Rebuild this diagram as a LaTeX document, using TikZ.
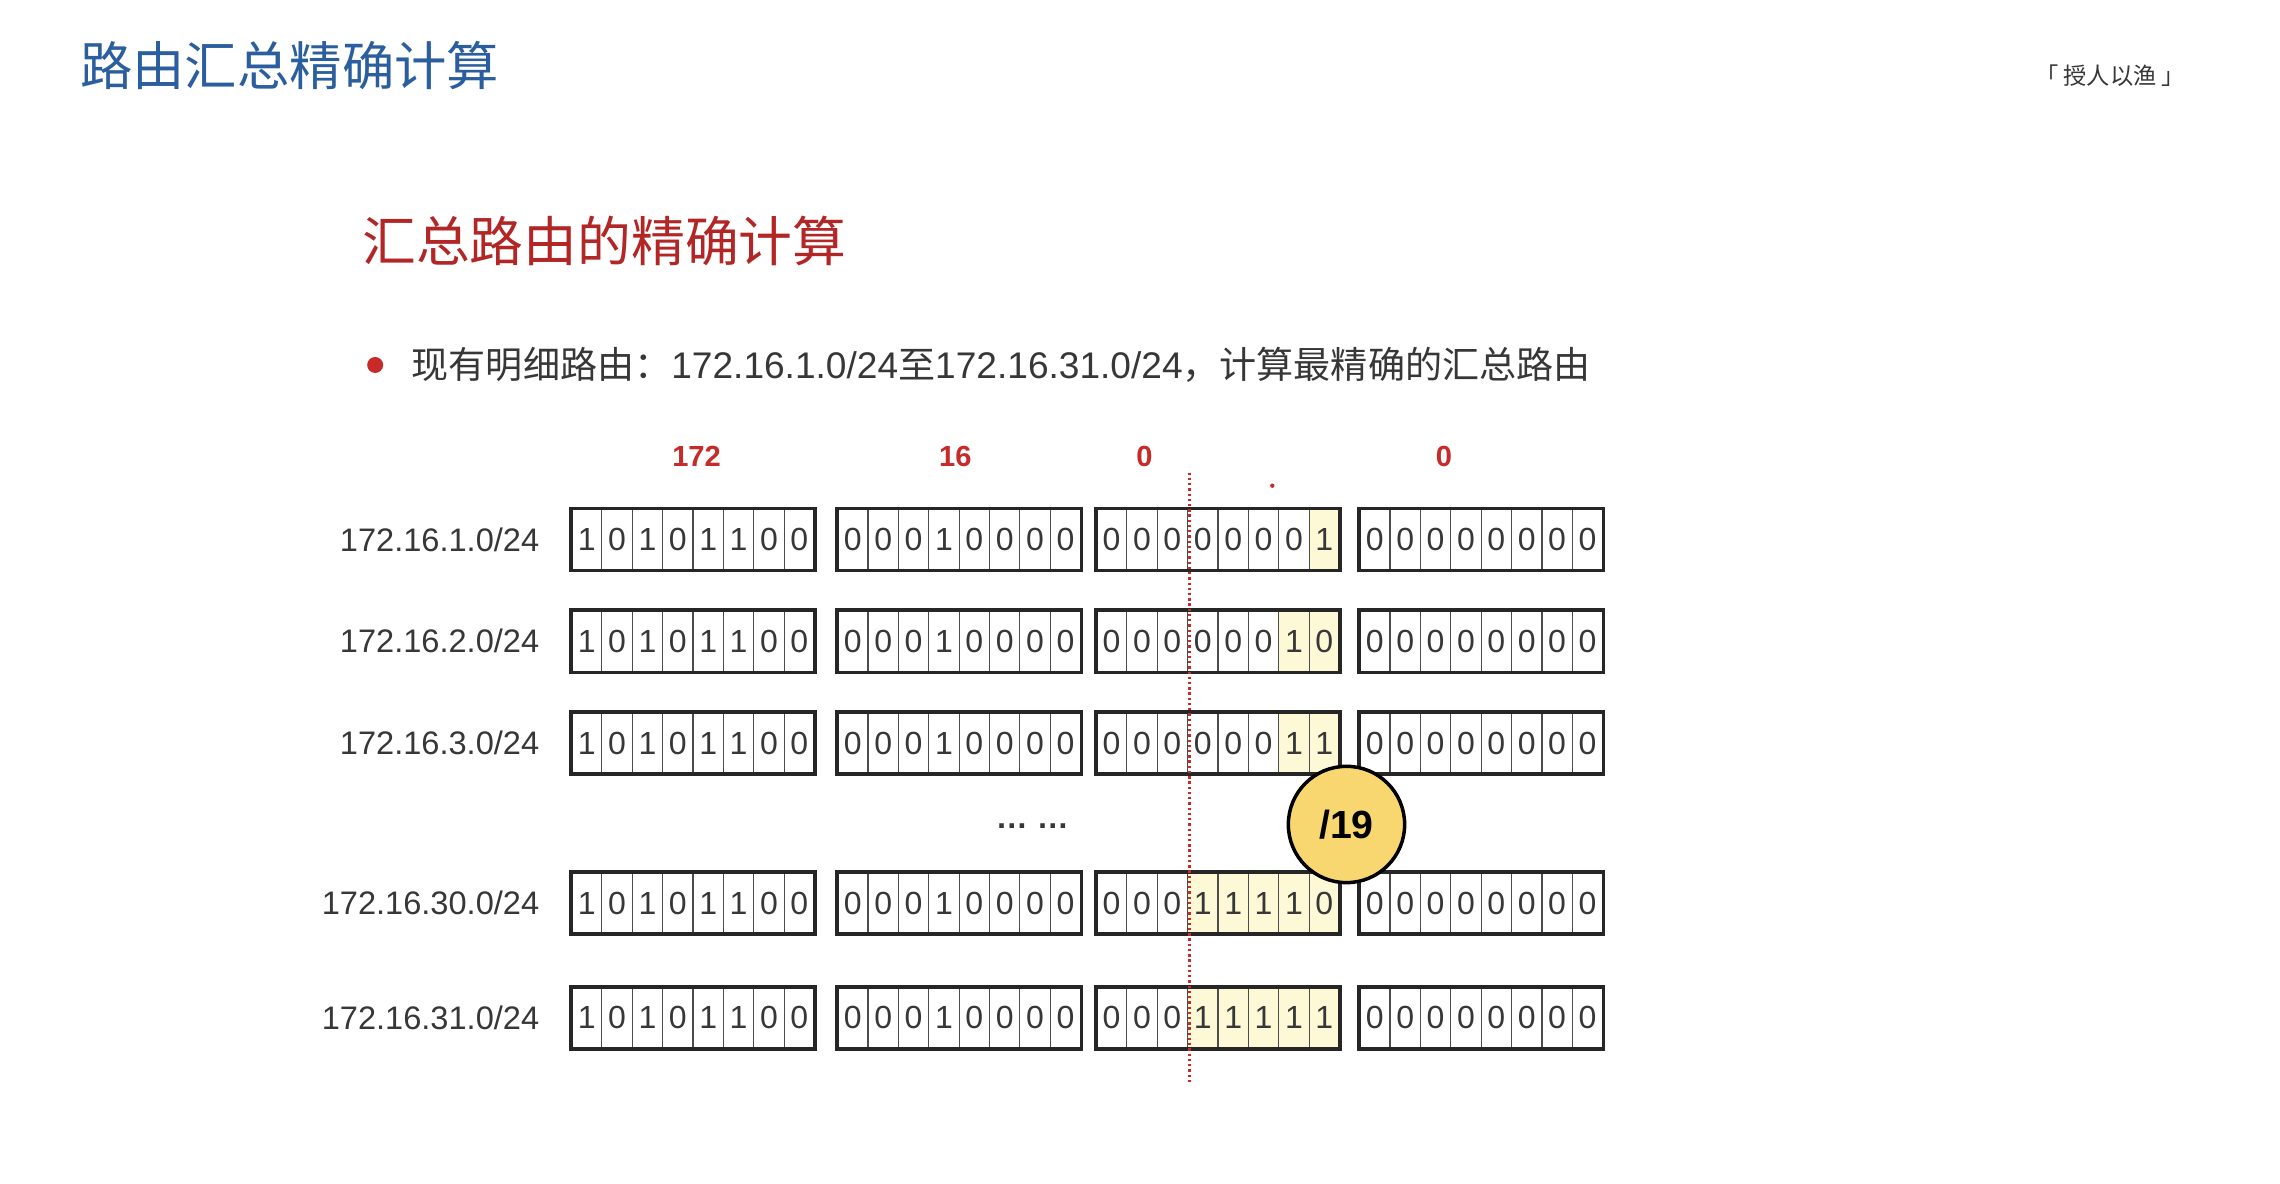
\documentclass[tikz,border=0pt]{standalone}
\usepackage{fontspec}
\setmainfont{Liberation Sans}
\newfontfamily\cjk{Noto Sans CJK SC}
\usetikzlibrary{positioning}
\definecolor{titleblue}{RGB}{42,94,158}
\definecolor{slidered}{RGB}{178,38,38}
\definecolor{headred}{RGB}{200,42,42}
\definecolor{bodygray}{RGB}{55,55,55}
\definecolor{hlyellow}{RGB}{253,249,214}
\definecolor{badgeyellow}{RGB}{248,214,112}
\tikzset{
    % one bit of an octet
    bitcell/.style={
           rectangle,
           draw=black!70, line width=0.8pt,
           minimum width=20.9pt,
           minimum height=42pt,
           inner sep=0pt,
           text=bodygray,
           font=\fontsize{22}{22}\selectfont},
    % heavy frame round the 8 bits
    octetframe/.style={
           draw=black!85, line width=2.4pt},
    rowlabel/.style={
           anchor=east, inner sep=0pt, text=bodygray,
           font=\fontsize{22.4}{24}\selectfont},
    headnum/.style={
           inner sep=0pt, text=headred,
           font=\fontsize{20}{22}\selectfont\bfseries},
    % dotted cut line
    cutline/.style={
           draw=headred, dotted, line width=1.6pt},
    badge/.style={
           circle, draw=black, line width=2.4pt,
           fill=badgeyellow, minimum size=80pt, inner sep=0pt,
           font=\fontsize{27}{28}\selectfont\bfseries}
}
% name, left x, y, bits, first highlighted bit
\newcommand{\octet}[5]{%
  \edef\bitlist{#4}%
  \foreach \b [count=\i] in \bitlist {
    \ifnum\i<#5\relax \def\cellfill{white}\else \def\cellfill{hlyellow}\fi
    \node[bitcell, fill=\cellfill] (#1-\i) at (#2+\i*20.9-10.45, #3) {\b};
  }
  \draw[octetframe] (#1-1.north west) rectangle (#1-8.south east);
}

\begin{document}
\begin{tikzpicture}[x=1pt, y=-1pt]
  \fill[white] (0,0) rectangle (1568,814);
  \useasboundingbox (0,0) rectangle (1568,814);
  %titles
  \node[anchor=west, inner sep=0pt, text=titleblue, font=\cjk\fontsize{36}{38}\selectfont]
    (title) at (55,45) {路由汇总精确计算};
  \node[anchor=east, inner sep=0pt, text=bodygray, font=\cjk\fontsize{16}{18}\selectfont]
    (motto) at (1503,52) {「 授人以渔 」};
  \node[anchor=west, inner sep=0pt, text=slidered, font=\cjk\fontsize{37}{39}\selectfont]
    (subtitle) at (249,166) {汇总路由的精确计算};
  \fill[headred] (258,251) circle (5.5);
  \node[anchor=west, inner sep=0pt, text=bodygray, font=\fontsize{25.5}{27}\selectfont]
    (task) at (283,251) {{\cjk 现有明细路由：}172.16.1.0/24{\cjk 至}172.16.31.0/24{\cjk ，计算最精确的汇总路由}};
  %octet headers
  \node[headnum] (h1) at (479,314) {172};
  \node[headnum] (h2) at (657,314) {16};
  \node[headnum] (h3) at (787,314) {0};
  \node[headnum] (h4) at (993,314) {0};
  \fill[headred] (875,334) circle (1.5);
  %rows
  \foreach \r/\sub/\y/\bits/\hl in {1/1/371/{0,0,0,0,0,0,0,1}/8,
      2/2/441/{0,0,0,0,0,0,1,0}/7, 3/3/511/{0,0,0,0,0,0,1,1}/7,
      4/30/621/{0,0,0,1,1,1,1,0}/4, 5/31/700/{0,0,0,1,1,1,1,1}/4} {
    \node[rowlabel] (lab\r) at (371,\y) {172.16.\sub.0/24};
    \octet{o\r-a}{393}{\y}{1,0,1,0,1,1,0,0}{9}
    \octet{o\r-b}{576}{\y}{0,0,0,1,0,0,0,0}{9}
    \octet{o\r-c}{754}{\y}{\bits}{\hl}
    \octet{o\r-d}{935}{\y}{0,0,0,0,0,0,0,0}{9}
  }
  \node[text=bodygray, font=\fontsize{22}{22}\selectfont\bfseries] (gap) at (710,568) {…\ …};
  %cut after 19 bits
  \coordinate (cuttop) at (818,325);
  \coordinate (cutbot) at (818,745);
  \draw[cutline] (cuttop) -- (cutbot);
  \node[badge] (mask) at (926,567) {/19};
\end{tikzpicture}
\end{document}
